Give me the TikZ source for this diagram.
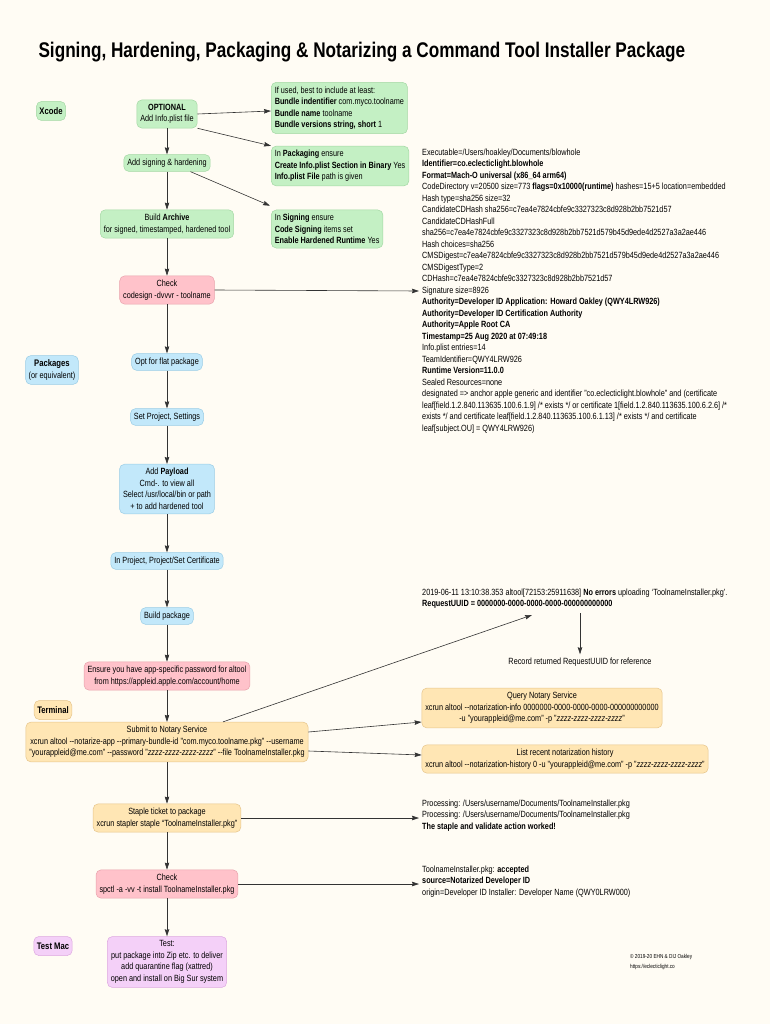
\documentclass[tikz,border=0pt]{standalone}
\usepackage{fontspec}
\setmainfont{Liberation Sans}[FakeStretch=0.81]
\usetikzlibrary{calc}
\usetikzlibrary{arrows.meta}

\definecolor{paper}{HTML}{FFFCF4}
\definecolor{xgreen}{HTML}{C4F0C4}
\definecolor{xgreenline}{HTML}{A4D8A4}
\definecolor{xpink}{HTML}{FFC2CA}
\definecolor{xpinkline}{HTML}{E8A2AC}
\definecolor{xblue}{HTML}{C2E8FA}
\definecolor{xblueline}{HTML}{9ACDE6}
\definecolor{xorange}{HTML}{FFE6B4}
\definecolor{xorangeline}{HTML}{E6C48A}
\definecolor{xviolet}{HTML}{F4D0F8}
\definecolor{xvioletline}{HTML}{DDA8E0}

\begin{document}
\begin{tikzpicture}[x=1pt, y=-1pt, font=\fontsize{9}{11.5}\selectfont,
  box/.style={draw, rounded corners=5pt, align=center, inner xsep=3.5pt, inner ysep=4.2pt, line width=.5pt},
  xcodebox/.style={box, fill=xgreen, draw=xgreenline},
  pinkbox/.style={box, fill=xpink, draw=xpinkline},
  pkgbox/.style={box, fill=xblue, draw=xblueline},
  termbox/.style={box, fill=xorange, draw=xorangeline},
  testbox/.style={box, fill=xviolet, draw=xvioletline},
  lane/.style={minimum height=19pt, inner xsep=3pt},
  notebox/.style={xcodebox, align=left, anchor=west},
  output/.style={align=left, anchor=north west, inner sep=0pt},
  flow/.style={->, >={Stealth[length=7pt, width=4.5pt, inset=.8pt]}, line width=.6pt, black!80}]
\useasboundingbox (0,0) rectangle (770,1024);
\fill[paper] (0,0) rectangle (770,1024);

\node[anchor=west, font=\fontsize{21.2}{24}\selectfont\bfseries] (title) at (35,52)
  {Signing, Hardening, Packaging \& Notarizing a Command Tool Installer Package};

% lanes
\node[xcodebox, lane, font=\fontsize{9.5}{11}\selectfont\bfseries] (xcode) at (51,111) {Xcode};
\node[pkgbox, lane] (packages) at (52,370) {\fontsize{9.5}{11}\selectfont\textbf{Packages}\\(or equivalent)};
\node[termbox, lane, font=\fontsize{9.5}{11}\selectfont\bfseries] (terminal) at (53,710) {Terminal};
\node[testbox, lane, font=\fontsize{9.5}{11}\selectfont\bfseries] (testmac) at (53,946) {Test Mac};

% main column
\node[xcodebox] (optional) at (167,114) {\textbf{OPTIONAL}\\Add Info.plist file};
\node[xcodebox] (signing) at (167,163) {Add signing \& hardening};
\node[xcodebox] (archive) at (167,224) {Build \textbf{Archive}\\for signed, timestamped, hardened tool};
\node[pinkbox] (cscheck) at (167,290) {Check\\codesign -dvvvr - toolname};
\node[pkgbox] (flat) at (167,362) {Opt for flat package};
\node[pkgbox] (settings) at (167,417) {Set Project, Settings};
\node[pkgbox] (payload) at (167,489) {Add \textbf{Payload}\\Cmd-. to view all\\Select /usr/local/bin or path\\+ to add hardened tool};
\node[pkgbox] (cert) at (167,561) {In Project, Project/Set Certificate};
\node[pkgbox] (buildpkg) at (167,616) {Build package};
\node[pinkbox] (password) at (167,676) {Ensure you have app-specific password for altool\\from https://appleid.apple.com/account/home};
\node[termbox] (submit) at (167,742) {Submit to Notary Service\\xcrun altool -{}-notarize-app -{}-primary-bundle-id "com.myco.toolname.pkg" -{}-username\\"yourappleid@me.com" -{}-password "\textit{zzzz-zzzz-zzzz-zzzz}" -{}-file ToolnameInstaller.pkg};
\node[termbox] (staple) at (167,818) {Staple ticket to package\\xcrun stapler staple “ToolnameInstaller.pkg”};
\node[pinkbox] (spcheck) at (167,884) {Check\\spctl -a -vv -t install ToolnameInstaller.pkg};
\node[testbox] (test) at (167,962) {Test:\\put package into Zip etc. to deliver\\add quarantine flag (xattred)\\open and install on Big Sur system};

\foreach \a/\b in {optional/signing, signing/archive, archive/cscheck, cscheck/flat, flat/settings,
  settings/payload, payload/cert, cert/buildpkg, buildpkg/password, password/submit,
  submit/staple, staple/spcheck, spcheck/test}
  \draw[flow] (\a) -- (\b);

% Xcode notes
\node[notebox] (bundle) at (271,108) {If used, best to include at least:\\\textbf{Bundle indentifier} com.myco.toolname\\\textbf{Bundle name} toolname\\\textbf{Bundle versions string, short} 1};
\node[notebox] (packaging) at (271,166) {In \textbf{Packaging} ensure\\\textbf{Create Info.plist Section in Binary} Yes\\\textbf{Info.plist File} path is given};
\node[notebox] (signnote) at (271,229) {In \textbf{Signing} ensure\\\textbf{Code Signing} items set\\\textbf{Enable Hardened Runtime} Yes};
\draw[flow] (optional.east) -- ($(bundle.west)+(0,3)$);
\draw[flow] (optional.south east) -- (packaging.north west);
\draw[flow] ($(signing.south east)+(-20,0)$) -- ($(signnote.north west)+(-1,-4)$);

% codesign output
\node[output] (csout) at (422,148.5) {Executable=/Users/hoakley/Documents/blowhole\\
\textbf{Identifier=co.eclecticlight.blowhole}\\
\textbf{Format=Mach-O universal (x86\_64 arm64)}\\
CodeDirectory v=20500 size=773 \textbf{flags=0x10000(runtime)} hashes=15+5 location=embedded\\
Hash type=sha256 size=32\\
CandidateCDHash sha256=c7ea4e7824cbfe9c3327323c8d928b2bb7521d57\\
CandidateCDHashFull\\
sha256=c7ea4e7824cbfe9c3327323c8d928b2bb7521d579b45d9ede4d2527a3a2ae446\\
Hash choices=sha256\\
CMSDigest=c7ea4e7824cbfe9c3327323c8d928b2bb7521d579b45d9ede4d2527a3a2ae446\\
CMSDigestType=2\\
CDHash=c7ea4e7824cbfe9c3327323c8d928b2bb7521d57\\
Signature size=8926\\
\textbf{Authority=Developer ID Application: Howard Oakley (QWY4LRW926)}\\
\textbf{Authority=Developer ID Certification Authority}\\
\textbf{Authority=Apple Root CA}\\
\textbf{Timestamp=25 Aug 2020 at 07:49:18}\\
Info.plist entries=14\\
TeamIdentifier=QWY4LRW926\\
\textbf{Runtime Version=11.0.0}\\
Sealed Resources=none\\
designated => anchor apple generic and identifier "co.eclecticlight.blowhole" and (certificate\\
leaf[field.1.2.840.113635.100.6.1.9] /* exists */ or certificate 1[field.1.2.840.113635.100.6.2.6] /*\\
exists */ and certificate leaf[field.1.2.840.113635.100.6.1.13] /* exists */ and certificate\\
leaf[subject.OU] = QWY4LRW926)};
\coordinate (sigline) at (419,291);
\draw[flow] (cscheck.east) -- (sigline);

% altool output
\node[output] (altout) at (422,588.5) {2019-06-11 13:10:38.353 altool[72153:25911638] \textbf{No errors} uploading `ToolnameInstaller.pkg'.\\
\textbf{RequestUUID = 0000000-0000-0000-0000-000000000000}};
\coordinate (uuid) at (532,615);
\draw[flow] ($(submit.north)+(56,0)$) -- (uuid);
\node (record) at (580,662) {Record returned RequestUUID for reference};
\draw[flow] (580,613) -- (record.north);

\node[termbox] (query) at (542,708) {Query Notary Service\\xcrun altool -{}-notarization-info 0000000-0000-0000-0000-000000000000\\-u "yourappleid@me.com" -p "\textit{zzzz-zzzz-zzzz-zzzz}"};
\node[termbox] (history) at (565,759) {List recent notarization history\\xcrun altool -{}-notarization-history 0 -u "yourappleid@me.com" -p "\textit{zzzz-zzzz-zzzz-zzzz}"};
\draw[flow] ($(submit.east)+(0,-10)$) -- ($(query.west)+(0,14)$);
\draw[flow] ($(submit.east)+(0,9)$) -- ($(history.west)+(0,-4)$);

% staple output
\node[output] (stapleout) at (422,799.5) {Processing: /Users/username/Documents/ToolnameInstaller.pkg\\
Processing: /Users/username/Documents/ToolnameInstaller.pkg\\
\textbf{The staple and validate action worked!}};
\coordinate (stapleline) at (419,818);
\draw[flow] (staple.east) -- (stapleline);

% spctl output
\node[output] (spout) at (422,865.5) {ToolnameInstaller.pkg: \textbf{accepted}\\
\textbf{source=Notarized Developer ID}\\
origin=Developer ID Installer: Developer Name (QWY0LRW000)};
\coordinate (spline) at (419,884);
\draw[flow] (spcheck.east) -- (spline);

\node[output, font=\fontsize{5.8}{10}\selectfont] (copyright) at (630,954) {© 2019-20 EHN \& DIJ Oakley\\https://eclecticlight.co};
\end{tikzpicture}
\end{document}
